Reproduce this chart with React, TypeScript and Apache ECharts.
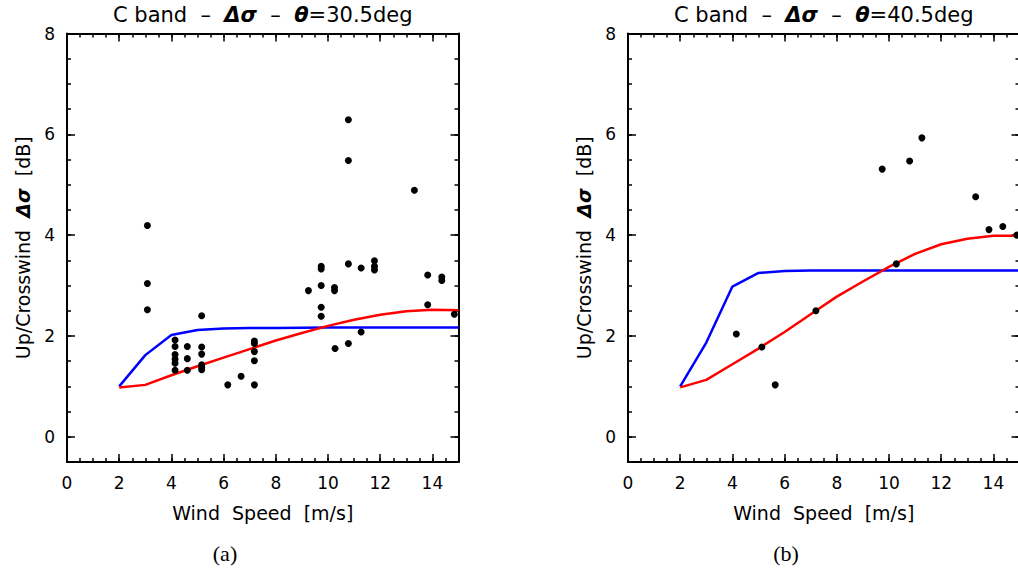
import React, { useEffect, useRef } from "react";
import * as echarts from "echarts";

// ---- data ----
const windSpeeds = [2, 3, 4, 5, 6, 7, 8, 9, 10, 11, 12, 13, 14, 15];
const blue305 = [1.0, 1.62, 2.02, 2.12, 2.15, 2.16, 2.16, 2.165, 2.17, 2.17, 2.17, 2.17, 2.17, 2.17];
const red305 = [0.98, 1.03, 1.22, 1.4, 1.57, 1.74, 1.91, 2.06, 2.2, 2.32, 2.42, 2.49, 2.52, 2.51];
const blue405 = [1.0, 1.87, 2.98, 3.25, 3.29, 3.3, 3.3, 3.3, 3.3, 3.3, 3.3, 3.3, 3.3, 3.3];
const red405 = [0.98, 1.13, 1.44, 1.75, 2.08, 2.43, 2.78, 3.08, 3.37, 3.63, 3.82, 3.93, 3.99, 3.99];

const obsX305 = [
  3.08, 3.08, 3.08,
  4.14, 4.14, 4.14, 4.14, 4.14, 4.14,
  4.61, 4.61, 4.61,
  5.16, 5.16, 5.16, 5.16, 5.16, 5.16,
  6.16, 6.67,
  7.18, 7.18, 7.18, 7.18, 7.18,
  9.25,
  9.74, 9.74, 9.74, 9.74, 9.74,
  10.25, 10.25, 10.27,
  10.78, 10.78, 10.78, 10.78,
  11.27, 11.27,
  11.78, 11.78, 11.78,
  13.31,
  13.82, 13.82,
  14.36, 14.36,
  14.84,
];
const obsY305 = [
  4.19, 3.04, 2.52,
  1.92, 1.79, 1.63, 1.54, 1.46, 1.32,
  1.79, 1.55, 1.32,
  2.4, 1.78, 1.64, 1.43, 1.38, 1.33,
  1.03, 1.2,
  1.9, 1.85, 1.69, 1.51, 1.03,
  2.9,
  3.38, 3.33, 3.0, 2.57, 2.39,
  2.96, 2.9, 1.75,
  6.29, 5.48, 3.43, 1.85,
  3.35, 2.08,
  3.49, 3.38, 3.31,
  4.89,
  3.21, 2.62,
  3.17, 3.1,
  2.43,
];
const obsX405 = [4.15, 5.13, 5.64, 7.2, 9.74, 10.28, 10.79, 11.26, 13.32, 13.83, 14.36, 14.9];
const obsY405 = [2.04, 1.78, 1.03, 2.5, 5.31, 3.43, 5.47, 5.93, 4.76, 4.11, 4.17, 4.0];

const majorX = [0, 2, 4, 6, 8, 10, 12, 14];
const minorX = [0, 0.5, 1, 1.5, 2, 2.5, 3, 3.5, 4, 4.5, 5, 5.5, 6, 6.5, 7, 7.5, 8, 8.5, 9, 9.5, 10, 10.5, 11, 11.5, 12, 12.5, 13, 13.5, 14, 14.5, 15];
const majorY = [0, 2, 4, 6, 8];
const minorY = [-0.5, 0, 0.5, 1, 1.5, 2, 2.5, 3, 3.5, 4, 4.5, 5, 5.5, 6, 6.5, 7, 7.5, 8];

const titles = ["30.5deg", "40.5deg"];
const captions = ["(a)", "(b)"];
const xName = "Wind  Speed  [m/s]";
const yName = "Up/Crosswind  {b|Δσ}  [dB]";

// ---- layout ----
const FONT = "DejaVu Sans";
const GRID_LEFTS = [67, 628];
const GRID_TOP = 33.5;
const GRID_W = 391.5;
const GRID_H = 428.5;

function pairs(xs: number[], ys: number[]) {
  return xs.map((x, i) => [x, ys[i]]);
}

export default function App() {
  const ref = useRef<HTMLDivElement>(null);
  useEffect(() => {
    if (!ref.current) return;
    const chart = echarts.init(ref.current, undefined, { renderer: "svg" });

    const grids: any[] = [];
    const xAxes: any[] = [];
    const yAxes: any[] = [];
    const series: any[] = [];
    const titleArr: any[] = [];
    const graphics: any[] = [];

    const lineStyle = { color: "#000", width: 2 };
    const tickStyle = { color: "#000", width: 1.5 };

    [0, 1].forEach((g) => {
      grids.push({
        left: GRID_LEFTS[g],
        top: GRID_TOP,
        width: GRID_W,
        height: GRID_H,
        outerBoundsMode: "none",
        containLabel: false,
      });
      const xBase = {
        type: "value",
        gridIndex: g,
        min: 0,
        max: 15,
        splitLine: { show: false },
      };
      const xi = xAxes.length;
      xAxes.push({
        ...xBase,
        position: "bottom",
        axisLine: { show: true, onZero: false, lineStyle },
        axisTick: { show: true, inside: true, length: 8, customValues: majorX, lineStyle: tickStyle },
        axisLabel: { show: true, customValues: majorX, color: "#000", fontSize: 17, fontFamily: FONT, margin: 12 },
        name: xName,
        nameLocation: "middle",
        nameGap: 41,
        nameTextStyle: { color: "#000", fontSize: 19, fontFamily: FONT },
      });
      xAxes.push({
        ...xBase,
        position: "bottom",
        axisLine: { show: false, onZero: false },
        axisTick: { show: true, inside: true, length: 4, customValues: minorX, lineStyle: tickStyle },
        axisLabel: { show: false },
      });
      xAxes.push({
        ...xBase,
        position: "top",
        axisLine: { show: true, onZero: false, lineStyle },
        axisTick: { show: true, inside: true, length: 8, customValues: majorX, lineStyle: tickStyle },
        axisLabel: { show: false },
      });
      xAxes.push({
        ...xBase,
        position: "top",
        axisLine: { show: false, onZero: false },
        axisTick: { show: true, inside: true, length: 4, customValues: minorX, lineStyle: tickStyle },
        axisLabel: { show: false },
      });

      const yBase = {
        type: "value",
        gridIndex: g,
        min: -0.5,
        max: 8,
        splitLine: { show: false },
      };
      const yi = yAxes.length;
      yAxes.push({
        ...yBase,
        position: "left",
        axisLine: { show: true, onZero: false, lineStyle },
        axisTick: { show: true, inside: true, length: 8, customValues: majorY, lineStyle: tickStyle },
        axisLabel: { show: true, customValues: majorY, color: "#000", fontSize: 17, fontFamily: FONT, margin: 12 },
        name: yName,
        nameLocation: "middle",
        nameGap: 35,
        nameTextStyle: {
          color: "#000",
          fontSize: 19,
          fontFamily: FONT,
          rich: { b: { fontWeight: "bold", fontStyle: "italic", fontSize: 19, fontFamily: FONT, color: "#000" } },
        },
      });
      yAxes.push({
        ...yBase,
        position: "left",
        axisLine: { show: false, onZero: false },
        axisTick: { show: true, inside: true, length: 4, customValues: minorY, lineStyle: tickStyle },
        axisLabel: { show: false },
      });
      yAxes.push({
        ...yBase,
        position: "right",
        axisLine: { show: true, onZero: false, lineStyle },
        axisTick: { show: true, inside: true, length: 8, customValues: majorY, lineStyle: tickStyle },
        axisLabel: { show: false },
      });
      yAxes.push({
        ...yBase,
        position: "right",
        axisLine: { show: false, onZero: false },
        axisTick: { show: true, inside: true, length: 4, customValues: minorY, lineStyle: tickStyle },
        axisLabel: { show: false },
      });

      const blue = g === 0 ? blue305 : blue405;
      const red = g === 0 ? red305 : red405;
      const ox = g === 0 ? obsX305 : obsX405;
      const oy = g === 0 ? obsY305 : obsY405;

      series.push({
        type: "line",
        xAxisIndex: xi,
        yAxisIndex: yi,
        data: pairs(windSpeeds, blue),
        showSymbol: false,
        symbol: "none",
        lineStyle: { color: "#0000ff", width: 2.5 },
        z: 3,
      });
      series.push({
        type: "line",
        xAxisIndex: xi,
        yAxisIndex: yi,
        data: pairs(windSpeeds, red),
        showSymbol: false,
        symbol: "none",
        lineStyle: { color: "#ff0000", width: 2.5 },
        z: 4,
      });
      series.push({
        type: "scatter",
        xAxisIndex: xi,
        yAxisIndex: yi,
        data: pairs(ox, oy),
        symbol: "circle",
        symbolSize: 7,
        itemStyle: { color: "#000", opacity: 1 },
        z: 5,
      });

      titleArr.push({
        text: "C band  –  {b|Δσ}  –  {b|θ}=" + titles[g],
        left: GRID_LEFTS[g] + GRID_W / 2,
        textAlign: "center",
        top: 4,
        padding: 0,
        textStyle: {
          color: "#000",
          fontSize: 21,
          fontWeight: "normal",
          fontFamily: FONT,
          rich: { b: { fontWeight: "bold", fontStyle: "italic", fontSize: 21, fontFamily: FONT, color: "#000" } },
        },
      });

      graphics.push({
        type: "text",
        x: GRID_LEFTS[g] + 158,
        y: 553,
        style: {
          text: captions[g],
          fill: "#000",
          font: "22px 'Liberation Serif', 'Times New Roman', serif",
          textAlign: "center",
          textVerticalAlign: "middle",
        },
      });
    });

    chart.setOption({
      animation: false,
      backgroundColor: "#fff",
      title: titleArr,
      grid: grids,
      xAxis: xAxes,
      yAxis: yAxes,
      series,
      graphic: graphics,
    });

    return () => chart.dispose();
  }, []);

  return (
    <div
      ref={ref}
      style={{ position: "absolute", left: 0, top: 0, width: 1018, height: 574 }}
    />
  );
}
